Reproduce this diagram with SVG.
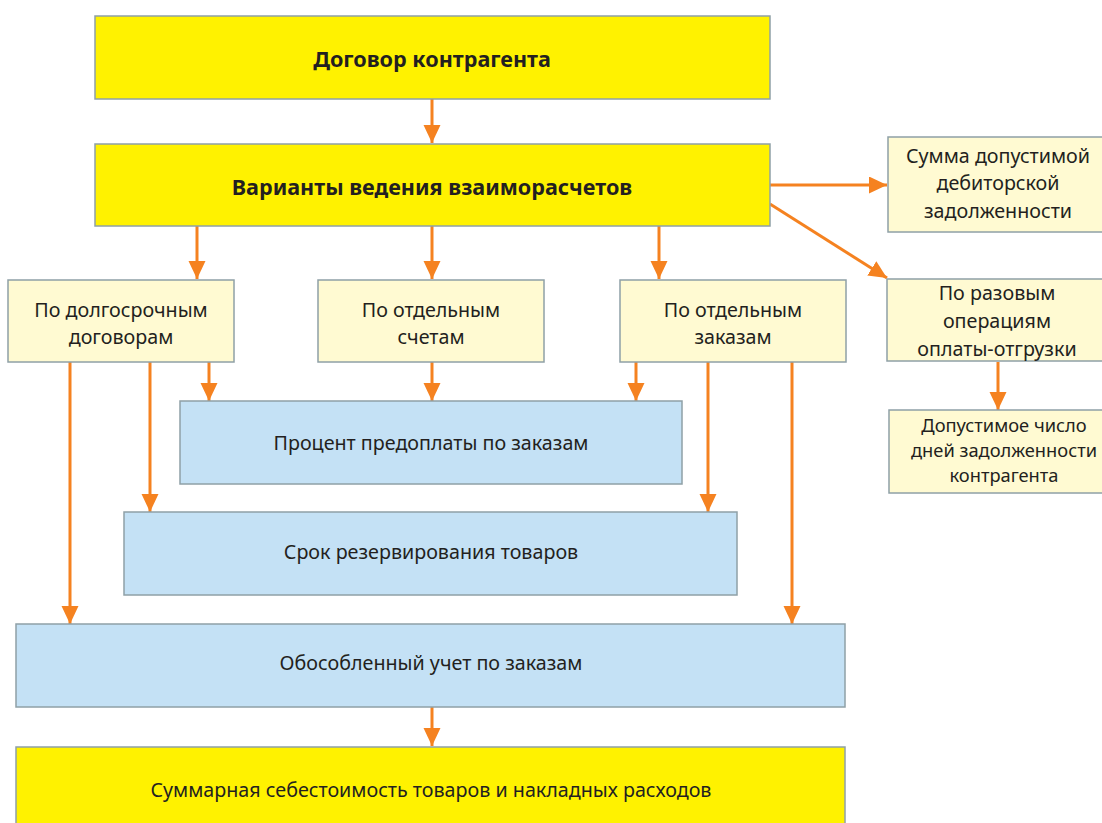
<svg xmlns="http://www.w3.org/2000/svg" width="1102" height="823" viewBox="0 0 1102 823">
<style>
.box{stroke:#8FA0A6;stroke-width:1.5}
.y{fill:#FFF200}
.c{fill:#FFFAD2}
.b{fill:#C4E1F5}
text{font-family:"Noto Sans","DejaVu Sans",sans-serif;font-size:19.7px;fill:#231F20;text-anchor:middle}
.bold{font-weight:bold;font-size:21.6px}
.sm{font-size:18.3px}
.con line{stroke:#F58220;stroke-width:3;fill:none}
</style>
<defs>
<marker id="ah" markerUnits="userSpaceOnUse" markerWidth="20" markerHeight="18" refX="18" refY="8.5" orient="auto" viewBox="0 0 20 18">
<path d="M0,0 L18,8.5 L0,17 z" fill="#F58220"/>
</marker>
</defs>
<rect width="1102" height="823" fill="#FFFFFF"/>
<g class="con">
<line x1="432" y1="99" x2="432" y2="143" marker-end="url(#ah)"/>
<line x1="197" y1="226" x2="197" y2="279" marker-end="url(#ah)"/>
<line x1="432" y1="226" x2="432" y2="279" marker-end="url(#ah)"/>
<line x1="659" y1="226" x2="659" y2="279" marker-end="url(#ah)"/>
<line x1="770" y1="185" x2="887" y2="185" marker-end="url(#ah)"/>
<line x1="770" y1="204" x2="887" y2="278" marker-end="url(#ah)"/>
<line x1="998" y1="362" x2="998" y2="410" marker-end="url(#ah)"/>
<line x1="209" y1="362" x2="209" y2="401" marker-end="url(#ah)"/>
<line x1="432" y1="362" x2="432" y2="401" marker-end="url(#ah)"/>
<line x1="636" y1="362" x2="636" y2="401" marker-end="url(#ah)"/>
<line x1="150" y1="362" x2="150" y2="512" marker-end="url(#ah)"/>
<line x1="708" y1="362" x2="708" y2="512" marker-end="url(#ah)"/>
<line x1="70" y1="362" x2="70" y2="624" marker-end="url(#ah)"/>
<line x1="792" y1="362" x2="792" y2="624" marker-end="url(#ah)"/>
<line x1="432" y1="707" x2="432" y2="746" marker-end="url(#ah)"/>
</g>
<g id="n-dogovor"><rect class="box y" x="95" y="16" width="675" height="83"/><text class="bold" x="432" y="67">Договор контрагента</text></g>
<g id="n-varianty"><rect class="box y" x="95" y="144" width="675" height="82"/><text class="bold" x="432" y="195">Варианты ведения взаиморасчетов</text></g>
<g id="n-dolgo"><rect class="box c" x="8" y="280" width="226" height="82"/><text x="121" y="317">По долгосрочным</text><text x="121" y="344">договорам</text></g>
<g id="n-scheta"><rect class="box c" x="318" y="280" width="226" height="82"/><text x="431" y="317">По отдельным</text><text x="431" y="344">счетам</text></g>
<g id="n-zakazy"><rect class="box c" x="620" y="280" width="226" height="82"/><text x="733" y="317">По отдельным</text><text x="733" y="344">заказам</text></g>
<g id="n-summa"><rect class="box c" x="888" y="137" width="220" height="95"/><text x="998" y="163">Сумма допустимой</text><text x="998" y="190">дебиторской</text><text x="998" y="218">задолженности</text></g>
<g id="n-razovye"><rect class="box c" x="887" y="279" width="220" height="82"/><text x="997" y="300">По разовым</text><text x="997" y="328">операциям</text><text x="997" y="356">оплаты-отгрузки</text></g>
<g id="n-dni"><rect class="box c" x="889" y="410" width="220" height="83"/><text class="sm" x="1004" y="432">Допустимое число</text><text class="sm" x="1004" y="457">дней задолженности</text><text class="sm" x="1004" y="482">контрагента</text></g>
<g id="n-procent"><rect class="box b" x="180" y="401" width="502" height="83"/><text x="431" y="450">Процент предоплаты по заказам</text></g>
<g id="n-srok"><rect class="box b" x="124" y="512" width="613" height="83"/><text x="431" y="559">Срок резервирования товаров</text></g>
<g id="n-obos"><rect class="box b" x="16" y="624" width="829" height="83"/><text x="431" y="670">Обособленный учет по заказам</text></g>
<g id="n-summar"><rect class="box y" x="16" y="747" width="829" height="90"/><text x="431" y="797">Суммарная себестоимость товаров и накладных расходов</text></g>
</svg>
